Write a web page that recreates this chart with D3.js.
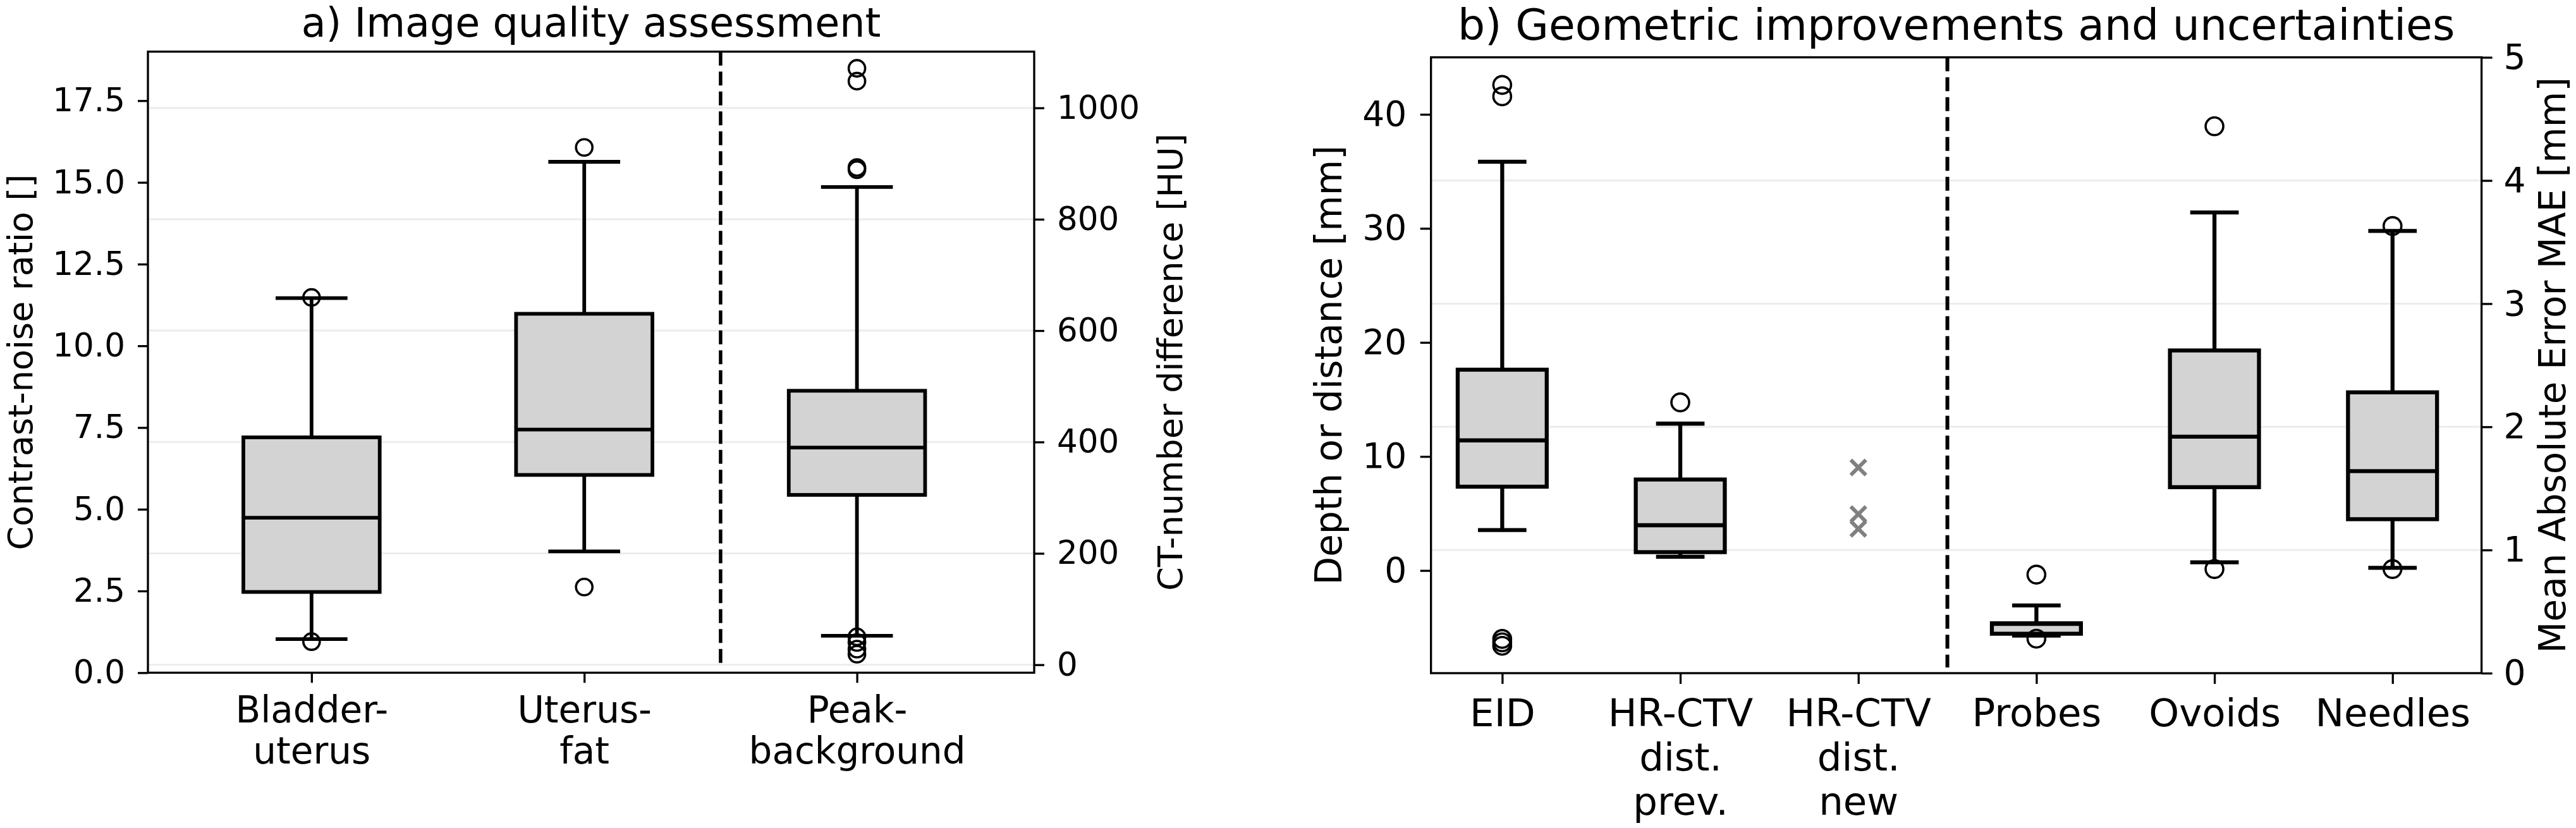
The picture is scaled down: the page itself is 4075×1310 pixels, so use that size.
<!DOCTYPE html>
<html>
<head>
<meta charset="utf-8">
<script src="https://cdn.jsdelivr.net/npm/d3@7"></script>
<style>
  body { margin: 0; background: #fff; }
  svg text { font-family: "DejaVu Sans", sans-serif; fill: #000; }
</style>
</head>
<body>
<script>
"use strict";

// ---------- panel a) image quality assessment ----------
// boxes 1-2 are contrast-noise ratio (left axis), box 3 is CT-number difference in HU (right axis)
const aCategories = [["Bladder-", "uterus"], ["Uterus-", "fat"], ["Peak-", "background"]];
const aSide = ["left", "left", "right"];
const aQ1 = [2.47, 6.05, 305];
const aMedian = [4.74, 7.44, 390];
const aQ3 = [7.20, 10.98, 492];
const aWhiskLo = [1.03, 3.71, 52];
const aWhiskHi = [11.46, 15.63, 858];
const aFliers = [[11.48, 0.95], [16.07, 2.62], [1071, 1048, 893, 889, 50, 40, 28, 19]];
const aLeftTicks = [0, 2.5, 5, 7.5, 10, 12.5, 15, 17.5];
const aRightTicks = [0, 200, 400, 600, 800, 1000];

// ---------- panel b) geometric improvements and uncertainties ----------
// first three in mm (left axis), last three are MAE in mm (right axis)
const bCategories = [["EID"], ["HR-CTV", "dist.", "prev."], ["HR-CTV", "dist.", "new"],
                     ["Probes"], ["Ovoids"], ["Needles"]];
const bSide = ["left", "left", "left", "right", "right", "right"];
const bQ1 = [7.35, 1.61, null, 0.32, 1.51, 1.25];
const bMedian = [11.41, 3.97, null, 0.40, 1.92, 1.64];
const bQ3 = [17.61, 7.98, null, 0.405, 2.62, 2.28];
const bWhiskLo = [3.55, 1.21, null, 0.305, 0.90, 0.855];
const bWhiskHi = [35.85, 12.88, null, 0.55, 3.74, 3.59];
const bFliers = [[42.58, 41.58, -6.0, -6.3, -6.6], [14.74], [], [0.80, 0.28], [4.44, 0.845], [3.63, 0.845]];
const bCrosses = [[], [], [9.03, 4.95, 3.66], [], [], []];
const bLeftTicks = [0, 10, 20, 30, 40];
const bRightTicks = [0, 1, 2, 3, 4, 5];

const svg = d3.select("body").append("svg")
    .attr("width", 4075)
    .attr("height", 1310)
    .style("background", "#fff");

function drawPanel(p) {
    var g = svg.append("g");
    var x = d3.scaleLinear().domain(p.xDomain).range([p.left, p.right]);
    var yL = d3.scaleLinear().domain(p.yLDomain).range([p.bottom, p.top]);
    var yR = d3.scaleLinear().domain(p.yRDomain).range([p.bottom, p.top]);

    // light grid from the right axis ticks
    g.selectAll("line.grid")
        .data(p.rightTicks)
        .enter().append("line")
            .attr("x1", p.left).attr("x2", p.right)
            .attr("y1", function (d) { return yR(d); })
            .attr("y2", function (d) { return yR(d); })
            .attr("stroke", "#ececec")
            .attr("stroke-width", 3);

    // dashed separator
    g.append("line")
        .attr("x1", x(p.sepAt)).attr("x2", x(p.sepAt))
        .attr("y1", p.top).attr("y2", p.bottom - 9)
        .attr("stroke", "#000")
        .attr("stroke-width", p.lw * 0.95)
        .attr("stroke-dasharray", "22,9.5");

    var n = p.categories.length;
    for (var i = 0; i < n; i++) {
        var ys = p.side[i] === "left" ? yL : yR;
        var cx = x(i + 1);
        var hw = x(i + 1.25) - cx;
        if (p.q1[i] !== null) {
            var bx = g.append("g");
            // whiskers
            bx.append("line").attr("x1", cx).attr("x2", cx)
                .attr("y1", ys(p.q1[i])).attr("y2", ys(p.lo[i]));
            bx.append("line").attr("x1", cx).attr("x2", cx)
                .attr("y1", ys(p.q3[i])).attr("y2", ys(p.hi[i]));
            // caps
            [p.lo[i], p.hi[i]].forEach(function (v) {
                bx.append("line")
                    .attr("x1", cx - hw / 2).attr("x2", cx + hw / 2)
                    .attr("y1", ys(v)).attr("y2", ys(v))
                    .attr("stroke-linecap", "square");
            });
            bx.selectAll("line").attr("stroke", "#000").attr("stroke-width", p.lw);
            // box
            bx.append("rect")
                .attr("x", cx - hw).attr("width", 2 * hw)
                .attr("y", ys(p.q3[i])).attr("height", ys(p.q1[i]) - ys(p.q3[i]))
                .attr("fill", "#d3d3d3")
                .attr("stroke", "#000")
                .attr("stroke-width", p.lw);
            // median
            bx.append("line")
                .attr("x1", cx - hw).attr("x2", cx + hw)
                .attr("y1", ys(p.median[i])).attr("y2", ys(p.median[i]))
                .attr("stroke", "#000")
                .attr("stroke-width", p.lw);
        }
        // fliers
        g.selectAll(null)
            .data(p.fliers[i])
            .enter().append("circle")
                .attr("cx", cx)
                .attr("cy", function (d) { return ys(d); })
                .attr("r", p.fr)
                .attr("fill", "none")
                .attr("stroke", "#000")
                .attr("stroke-width", 3.6);
        // grey crosses
        if (p.crosses) {
            var s = 12;
            g.selectAll(null)
                .data(p.crosses[i])
                .enter().append("path")
                    .attr("d", function (d) {
                        var yy = ys(d);
                        return "M" + (cx - s) + "," + (yy - s) + "L" + (cx + s) + "," + (yy + s) +
                               "M" + (cx - s) + "," + (yy + s) + "L" + (cx + s) + "," + (yy - s);
                    })
                    .attr("stroke", "#808080")
                    .attr("stroke-width", 6)
                    .attr("fill", "none");
        }
    }

    // axes
    var axL = g.append("g").attr("transform", "translate(" + p.left + ",0)")
        .call(d3.axisLeft(yL).tickValues(p.leftTicks).tickFormat(p.leftFormat)
            .tickSize(p.tickLen).tickPadding(p.padL));
    var axR = g.append("g").attr("transform", "translate(" + p.right + ",0)")
        .call(d3.axisRight(yR).tickValues(p.rightTicks).tickFormat(d3.format("d"))
            .tickSize(p.tickLen).tickPadding(p.padR));
    var axB = g.append("g").attr("transform", "translate(0," + p.bottom + ")")
        .call(d3.axisBottom(x).tickValues(d3.range(1, n + 1)).tickFormat("")
            .tickSize(p.tickLen));
    [axL, axR, axB].forEach(function (ax) {
        ax.select(".domain").remove();
        ax.selectAll(".tick line").attr("stroke", "#000").attr("stroke-width", 3.3);
        ax.selectAll("text").attr("font-family", "DejaVu Sans").attr("fill", "#000");
    });
    axL.selectAll("text").attr("font-size", p.yTickFont);
    axR.selectAll("text").attr("font-size", p.yTickFont);

    axB.selectAll(".tick text").each(function (d) {
        var t = d3.select(this);
        t.attr("y", p.xLabelBase).attr("dy", null)
            .attr("font-size", p.xTickFont);
        p.categories[d - 1].forEach(function (line, k) {
            t.append("tspan").attr("x", 0).attr("y", p.xLabelBase + k * p.xLineGap).text(line);
        });
    });

    // frame
    g.append("rect")
        .attr("x", p.left).attr("y", p.top)
        .attr("width", p.right - p.left).attr("height", p.bottom - p.top)
        .attr("fill", "none")
        .attr("stroke", "#000")
        .attr("stroke-width", 3.3);

    // title and axis labels
    g.append("text")
        .attr("x", (p.left + p.right) / 2).attr("y", p.titleBase)
        .attr("text-anchor", "middle")
        .attr("font-size", p.titleFont)
        .text(p.title);
    var mid = (p.top + p.bottom) / 2;
    g.append("text")
        .attr("transform", "translate(" + p.yLabelLX + "," + mid + ") rotate(-90)")
        .attr("text-anchor", "middle")
        .attr("font-size", p.labelFont)
        .text(p.leftLabel);
    g.append("text")
        .attr("transform", "translate(" + p.yLabelRX + "," + mid + ") rotate(-90)")
        .attr("text-anchor", "middle")
        .attr("font-size", p.labelFont)
        .text(p.rightLabel);
}

drawPanel({
    left: 234, right: 1636, top: 81.7, bottom: 1064.3,
    xDomain: [0.4, 3.65], yLDomain: [0, 19], yRDomain: [-14.3, 1101],
    categories: aCategories, side: aSide,
    q1: aQ1, median: aMedian, q3: aQ3, lo: aWhiskLo, hi: aWhiskHi, fliers: aFliers,
    leftTicks: aLeftTicks, rightTicks: aRightTicks, leftFormat: d3.format(".1f"),
    sepAt: 2.5, lw: 5.8, fr: 13,
    tickLen: 16, padL: 20, padR: 20,
    yTickFont: 51.5, xTickFont: 58, labelFont: 54, titleFont: 63.5,
    xLabelBase: 79, xLineGap: 64.5,
    titleBase: 58, title: "a) Image quality assessment",
    yLabelLX: 51, leftLabel: "Contrast-noise ratio []",
    yLabelRX: 1870, rightLabel: "CT-number difference [HU]"
});

drawPanel({
    left: 2263.7, right: 3925.6, top: 90.7, bottom: 1065,
    xDomain: [0.6, 6.5], yLDomain: [-9, 45], yRDomain: [0, 5],
    categories: bCategories, side: bSide,
    q1: bQ1, median: bMedian, q3: bQ3, lo: bWhiskLo, hi: bWhiskHi, fliers: bFliers,
    crosses: bCrosses,
    leftTicks: bLeftTicks, rightTicks: bRightTicks, leftFormat: d3.format("d"),
    sepAt: 3.5, lw: 6.3, fr: 14,
    tickLen: 17, padL: 21.5, padR: 18,
    yTickFont: 55, xTickFont: 61, labelFont: 58, titleFont: 68,
    xLabelBase: 84, xLineGap: 70,
    titleBase: 63, title: "b) Geometric improvements and uncertainties",
    yLabelLX: 2122, leftLabel: "Depth or distance [mm]",
    yLabelRX: 4058, rightLabel: "Mean Absolute Error MAE [mm]"
});
</script>
</body>
</html>
